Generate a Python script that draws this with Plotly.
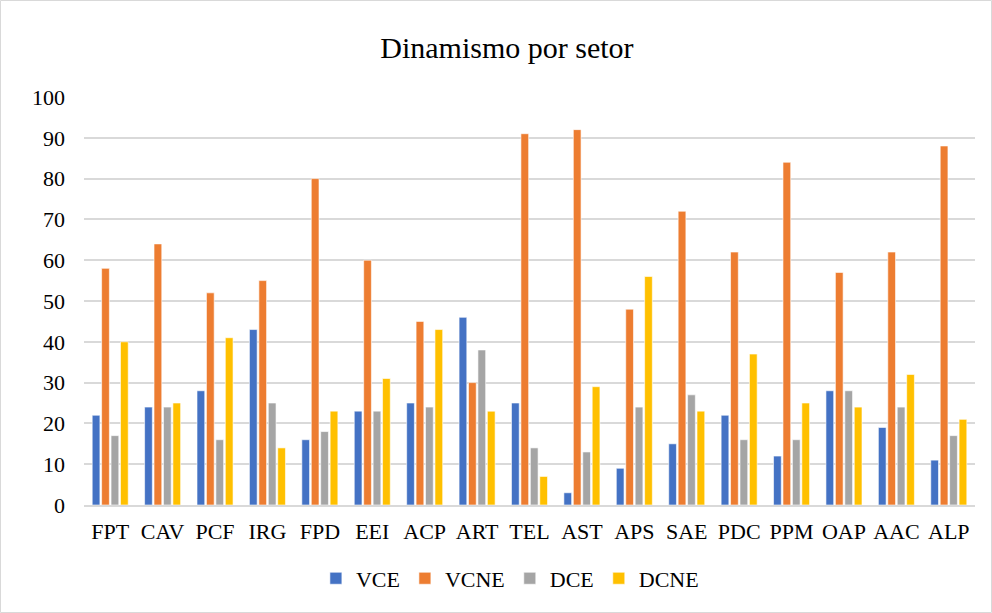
import plotly.graph_objects as go

setores = ["FPT", "CAV", "PCF", "IRG", "FPD", "EEI", "ACP", "ART", "TEL",
           "AST", "APS", "SAE", "PDC", "PPM", "OAP", "AAC", "ALP"]
vce = [22, 24, 28, 43, 16, 23, 25, 46, 25, 3, 9, 15, 22, 12, 28, 19, 11]
vcne = [58, 64, 52, 55, 80, 60, 45, 30, 91, 92, 48, 72, 62, 84, 57, 62, 88]
dce = [17, 24, 16, 25, 18, 23, 24, 38, 14, 13, 24, 27, 16, 16, 28, 24, 17]
dcne = [40, 25, 41, 14, 23, 31, 43, 23, 7, 29, 56, 23, 37, 25, 24, 32, 21]
y_ticks = [0, 10, 20, 30, 40, 50, 60, 70, 80, 90, 100]

series = [("VCE", vce, "#4472C4"), ("VCNE", vcne, "#ED7D31"),
          ("DCE", dce, "#A5A5A5"), ("DCNE", dcne, "#FFC000")]

fig = go.Figure()
for nome, valores, cor in series:
    fig.add_trace(go.Bar(x=setores, y=valores, name=nome, marker_color=cor,
                         marker_line=dict(color="white", width=0.6)))

fig.update_layout(
    width=992, height=613,
    margin=dict(l=84, r=17, t=97, b=108),
    paper_bgcolor="white", plot_bgcolor="white",
    font=dict(family="Liberation Serif, Times New Roman, serif", size=22, color="black"),
    title=dict(text="Dinamismo por setor", x=0.511, xanchor="center",
               y=0.922, yanchor="middle", font=dict(size=30)),
    barmode="group", bargap=0.28, bargroupgap=0.18,
    legend=dict(orientation="h", x=0.478, xanchor="center", y=-0.18, yanchor="middle",
                font=dict(size=22, family="Liberation Serif, serif"), itemwidth=30,
                traceorder="normal"),
    xaxis=dict(showgrid=False, showline=True, linecolor="#D9D9D9", linewidth=1.5,
               ticks="", tickfont=dict(size=22), ticklabelstandoff=6),
    yaxis=dict(range=[0, 100], tickvals=y_ticks, showgrid=True, gridcolor="#D9D9D9",
               gridwidth=1.5, zeroline=False, ticks="", tickfont=dict(size=22),
               ticklabelstandoff=18),
    shapes=[dict(type="rect", xref="paper", yref="paper", x0=-83.5/891, x1=1+16.5/891,
                 y0=-107.5/408, y1=1+96.5/408, line=dict(color="#D9D9D9", width=1))],
)

fig.write_html("out.html", config={"displayModeBar": False},
               post_script="document.body.style.margin='0';")
